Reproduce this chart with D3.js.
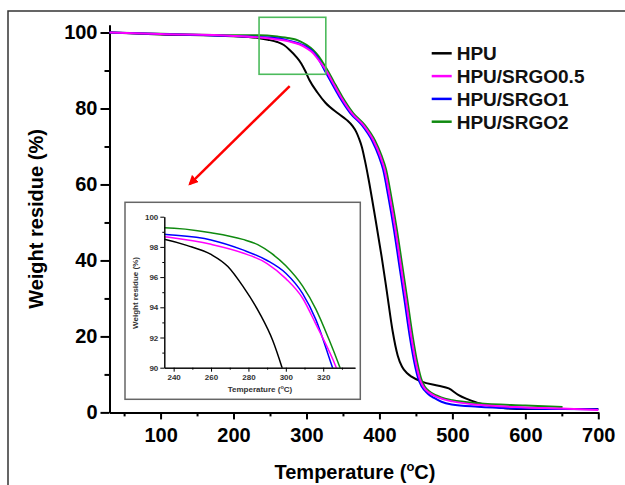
<!DOCTYPE html>
<html><head><meta charset="utf-8">
<script src="https://cdn.jsdelivr.net/npm/d3@7"></script>
<style>
html,body{margin:0;padding:0;background:#fff;}
svg{display:block;font-family:Arial,"Liberation Sans",sans-serif;}
</style></head>
<body><svg id="c" width="625" height="485"></svg>
<script>
// ---- data ----
const seriesNames = ["HPU", "HPU/SRGO0.5", "HPU/SRGO1", "HPU/SRGO2"];
const seriesColors = ["#000000", "#ff00ff", "#0000ff", "#108a10"];
const hpuT = [30,100,200,235,247,260,269,277,286,293,298,304,315,326,344,355,363,368,372,376,380,385,394,403,410,418,425,431,438,444,458,481,495,508,535,572,600,700];
const hpuW = [100,99.5,99.0,98.5,98.1,97.5,96.7,95.4,93.6,91.8,90,87.5,84.2,81.5,78.6,77.0,75.4,73.9,72.1,69.8,66.4,61.5,51.5,41,32,21.5,15,12,10.3,9.4,8.1,7.0,6.3,4.6,2.5,1.1,0.9,0.9];
const s05T = [30,100,200,235,260,277,290,300,309,316,327,335,347,362,378,392,401,407,414,422,429,436,444,450,455,460,468,477,487,500,535,600,650,700];
const s05W = [100,99.6,99.1,98.68,98.17,97.6,96.9,95.9,94.6,92.9,90,87.2,83.1,78.8,75.6,71.5,67.5,64,57,48,39,30,19.5,13,9,6.8,5.2,4.2,3.5,2.9,2.0,1.3,1.0,0.6];
const s1T  = [30,100,200,235,260,277,290,300,309,316,325,333,345,360,376,390,399,405,412,420,427,434,442,448,453,458,466,475,485,499,535,600,650,700];
const s1W  = [100,99.6,99.1,98.83,98.46,97.8,97.1,96.25,94.9,93.2,90,87.2,83.1,78.8,75.6,71.5,67.5,64,57,48,39,30,19.5,13,9,6.8,5.0,3.8,2.8,2.1,1.5,1.0,0.9,0.8];
const s2T  = [30,100,200,235,260,277,285,292,300,309,316,323,329,337,349,364,380,394,403,409,416,424,431,438,446,452,457,462,470,479,490,500,535,600,651];
const s2W  = [100,99.7,99.3,99.27,98.94,98.5,98.15,97.6,96.75,95.4,93.9,91.9,90,87.2,83.1,78.8,75.6,71.5,67.5,64,57,48,39,30,19.5,13,9,6.8,5.3,4.4,3.6,3.2,2.4,1.8,1.4];
const seriesT = [hpuT, s05T, s1T, s2T];
const seriesW = [hpuW, s05W, s1W, s2W];
const xMajorTicks = [100,200,300,400,500,600,700];
const xMinorTicks = [50,150,250,350,450,550,650];
const yMajorTicks = [0,20,40,60,80,100];
const yMinorTicks = [10,30,50,70,90];
const inXMajor = [240,260,280,300,320];
const inXMinor = [250,270,290,310,330];
const inYMajor = [90,92,94,96,98,100];
const inYMinor = [91,93,95,97,99];
const zoomBoxT = [235, 326.5];
const zoomBoxW = [89, 104];
const arrowFrom = [277, 85.9];
const arrowTo = [140, 60.1];

const svg = d3.select("#c");
const data = seriesNames.map((n,i)=>({name:n,color:seriesColors[i],pts:seriesT[i].map((t,j)=>[t,seriesW[i][j]])}));
const drawOrder = [0,3,2,1];

// frame
svg.append("rect").attr("x",8).attr("y",11).attr("width",700).attr("height",600)
  .attr("fill","none").attr("stroke","#333").attr("stroke-width",1.5);

// main scales
const x = d3.scaleLinear([30,700],[109.5,598.3]);
const y = d3.scaleLinear([0,102],[412.4,24.9]);

function styleAxis(g, sw, fs){
  g.selectAll(".domain").attr("stroke","#000").attr("stroke-width",sw);
  g.selectAll(".tick line").attr("stroke","#000").attr("stroke-width",sw);
  g.selectAll("text").attr("font-size",fs).attr("font-weight","bold").attr("fill","#000");
}
const gx = svg.append("g").attr("transform",`translate(0,${y(0)})`)
  .call(d3.axisBottom(x).tickValues(xMajorTicks).tickSize(7).tickSizeOuter(0).tickPadding(8).tickFormat(d3.format("d")));
styleAxis(gx,2,20);
const gxm = svg.append("g").attr("transform",`translate(0,${y(0)})`)
  .call(d3.axisBottom(x).tickValues(xMinorTicks).tickSize(4).tickSizeOuter(0).tickFormat(""));
styleAxis(gxm,2,20);
const gy = svg.append("g").attr("transform",`translate(${x(30)},0)`)
  .call(d3.axisLeft(y).tickValues(yMajorTicks).tickSize(9).tickSizeOuter(0).tickPadding(3).tickFormat(d3.format("d")));
styleAxis(gy,2,20);
const gym = svg.append("g").attr("transform",`translate(${x(30)},0)`)
  .call(d3.axisLeft(y).tickValues(yMinorTicks).tickSize(5).tickSizeOuter(0).tickFormat(""));
styleAxis(gym,2,20);

// axis titles
const xt = svg.append("text").attr("x",355).attr("y",479).attr("text-anchor","middle")
  .attr("font-size",20).attr("font-weight","bold");
xt.append("tspan").text("Temperature (");
xt.append("tspan").text("o").attr("font-size",13).attr("dy",-8);
xt.append("tspan").text("C)").attr("dy",8);
svg.append("text").attr("transform","translate(43,219) rotate(-90)").attr("text-anchor","middle")
  .attr("font-size",20).attr("font-weight","bold").text("Weight residue (%)");

// main lines
const line = d3.line().x(d=>x(d[0])).y(d=>y(d[1])).curve(d3.curveMonotoneX);
drawOrder.forEach(i=>{
  svg.append("path").attr("d",line(data[i].pts)).attr("fill","none")
    .attr("stroke",data[i].color).attr("stroke-width",2);
});

// zoom box
svg.append("rect").attr("x",x(zoomBoxT[0])).attr("y",y(zoomBoxW[1]))
  .attr("width",x(zoomBoxT[1])-x(zoomBoxT[0])).attr("height",y(zoomBoxW[0])-y(zoomBoxW[1]))
  .attr("fill","none").attr("stroke","#4cbb5c").attr("stroke-width",1.6);

// arrow
const defs = svg.append("defs");
defs.append("marker").attr("id","ah").attr("viewBox","0 0 10 10").attr("refX",8).attr("refY",5)
  .attr("markerWidth",4).attr("markerHeight",4).attr("orient","auto")
  .append("path").attr("d","M0,0 L10,5 L0,10 Z").attr("fill","#ff0000");
svg.append("line").attr("x1",x(arrowFrom[0])).attr("y1",y(arrowFrom[1]))
  .attr("x2",x(arrowTo[0])).attr("y2",y(arrowTo[1]))
  .attr("stroke","#ff0000").attr("stroke-width",2.5).attr("marker-end","url(#ah)");

// legend
const lg = svg.append("g");
seriesNames.forEach((n,i)=>{
  const yy = 53.3 + i*22.8;
  lg.append("line").attr("x1",431.7).attr("x2",451.7).attr("y1",yy).attr("y2",yy)
    .attr("stroke",seriesColors[i]).attr("stroke-width",2.5);
  lg.append("text").attr("x",456.7).attr("y",yy+7).attr("font-size",19).attr("font-weight","bold")
    .attr("fill","#111").text(n);
});

// inset
svg.append("rect").attr("x",125).attr("y",202.3).attr("width",235.3).attr("height",197)
  .attr("fill","#fff").attr("stroke","#666").attr("stroke-width",1.5);
const xi = d3.scaleLinear([235,337],[164.3,355]);
const yi = d3.scaleLinear([90,100],[367.7,216.7]);
defs.append("clipPath").attr("id","clipI").append("rect")
  .attr("x",xi(235)).attr("y",yi(100)).attr("width",xi(337)-xi(235)).attr("height",yi(90)-yi(100));
const linei = d3.line().x(d=>xi(d[0])).y(d=>yi(d[1])).curve(d3.curveMonotoneX);
const gi = svg.append("g").attr("clip-path","url(#clipI)");
drawOrder.forEach(i=>{
  gi.append("path").attr("d",linei(data[i].pts)).attr("fill","none")
    .attr("stroke",data[i].color).attr("stroke-width",1.5);
});
function styleInset(g){
  g.selectAll(".domain").attr("stroke","#000").attr("stroke-width",1);
  g.selectAll(".tick line").attr("stroke","#000").attr("stroke-width",1);
  g.selectAll("text").attr("font-size",8).attr("font-weight","bold").attr("fill","#333");
}
const gix = svg.append("g").attr("transform",`translate(0,${yi(90)})`)
  .call(d3.axisBottom(xi).tickValues(inXMajor).tickSize(4).tickSizeOuter(0).tickPadding(3).tickFormat(d3.format("d")));
styleInset(gix);
styleInset(svg.append("g").attr("transform",`translate(0,${yi(90)})`)
  .call(d3.axisBottom(xi).tickValues(inXMinor).tickSize(2).tickSizeOuter(0).tickFormat("")));
const giy = svg.append("g").attr("transform",`translate(${xi(235)},0)`)
  .call(d3.axisLeft(yi).tickValues(inYMajor).tickSize(4).tickSizeOuter(0).tickPadding(2).tickFormat(d3.format("d")));
styleInset(giy);
styleInset(svg.append("g").attr("transform",`translate(${xi(235)},0)`)
  .call(d3.axisLeft(yi).tickValues(inYMinor).tickSize(2).tickSizeOuter(0).tickFormat("")));
const ixt = svg.append("text").attr("x",260).attr("y",392).attr("text-anchor","middle")
  .attr("font-size",8).attr("font-weight","bold").attr("fill","#333");
ixt.append("tspan").text("Temperature (");
ixt.append("tspan").text("o").attr("font-size",5.5).attr("dy",-3);
ixt.append("tspan").text("C)").attr("dy",3);
svg.append("text").attr("transform","translate(138,293) rotate(-90)").attr("text-anchor","middle")
  .attr("font-size",8).attr("font-weight","bold").attr("fill","#333").text("Weight residue (%)");
</script></body></html>
